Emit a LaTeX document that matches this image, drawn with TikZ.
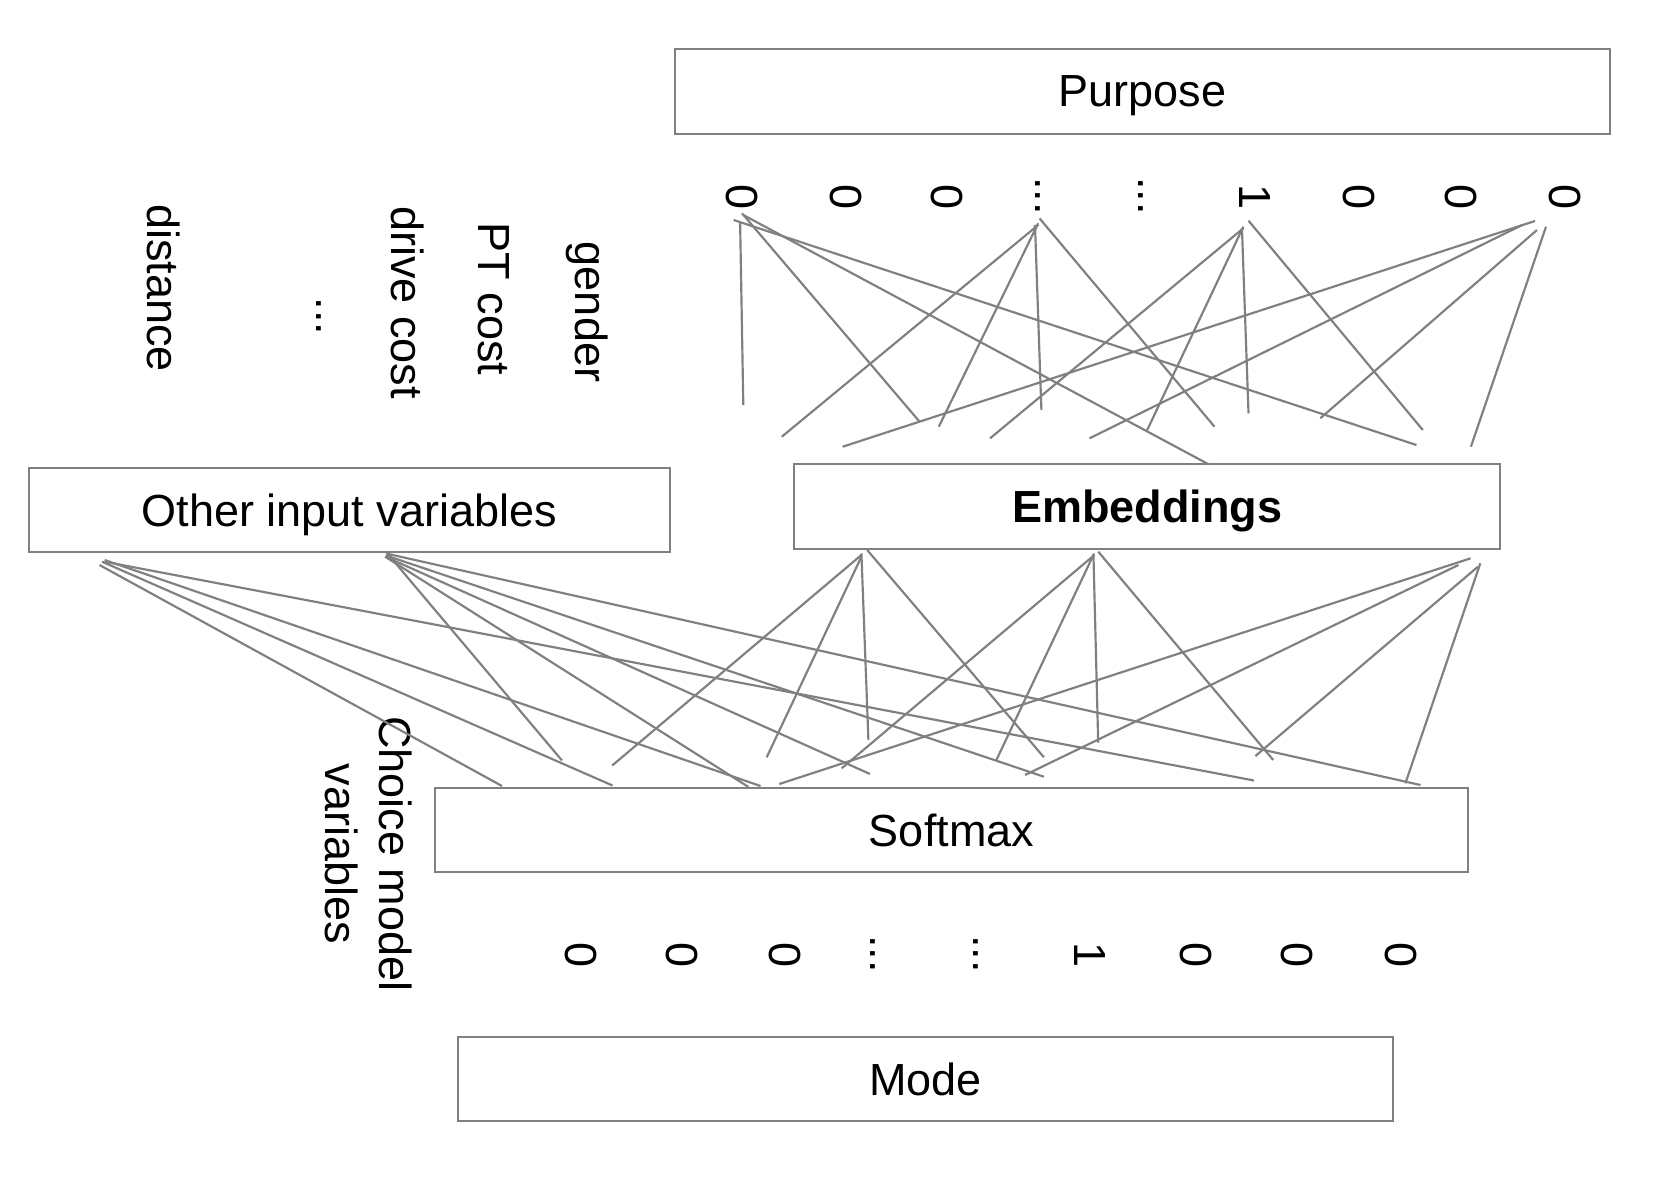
\documentclass[tikz,border=0pt]{standalone}
\usepackage{fontspec}
\setmainfont{Liberation Sans}
\definecolor{linegray}{HTML}{808080}
\begin{document}
\begin{tikzpicture}[x=0.3pt,y=-0.3pt,
  blk/.style={draw=linegray, line width=0.8pt, inner sep=0pt, text depth=0pt, font=\fontsize{13.5}{16.2}\selectfont},
  txt/.style={inner sep=0pt, font=\fontsize{13.5}{16.2}\selectfont, rotate=-90},
  link/.style={draw=linegray, line width=0.65pt}]
\useasboundingbox (0,0) rectangle (1664,1182);

% boxes
\node[blk, minimum width=280.5pt, minimum height=25.5pt] (purpose) at (1142.5,91.5) {Purpose};
\node[blk, minimum width=192.3pt, minimum height=25.2pt] (other) at (349.5,510) {Other input variables};
\node[blk, minimum width=211.8pt, minimum height=25.5pt] (emb) at (1147,506.5) {\textbf{Embeddings}};
\node[blk, minimum width=309.9pt, minimum height=25.2pt] (softmax) at (951.5,830) {Softmax};
\node[blk, minimum width=280.5pt, minimum height=25.2pt] (mode) at (925.5,1079) {Mode};

% rotated labels
\node[txt] (gender) at (587,312) {gender};
\node[txt] (ptcost) at (494,299) {PT cost};
\node[txt] (drivecost) at (408,302.5) {drive cost};
\node[txt] (vdots) at (318.5,316.5) {...};
\node[txt] (distance) at (164,288) {distance};
\node[txt, align=center] (choice) at (369,854) {Choice model\\variables};

% top one-hot row
\node[txt] (t1) at (742,197) {0};
\node[txt] (t2) at (846,197) {0};
\node[txt] (t3) at (947,197) {0};
\node[txt] (t4) at (1038,196) {...};
\node[txt] (t5) at (1141,196) {...};
\node[txt] (t6) at (1255,197) {1};
\node[txt] (t7) at (1359,197) {0};
\node[txt] (t8) at (1461,197) {0};
\node[txt] (t9) at (1565,197) {0};

% bottom one-hot row
\node[txt] (b1) at (581,955) {0};
\node[txt] (b2) at (682,955) {0};
\node[txt] (b3) at (785,955) {0};
\node[txt] (b4) at (873,954) {...};
\node[txt] (b5) at (976,954) {...};
\node[txt] (b6) at (1090,955) {1};
\node[txt] (b7) at (1196,955) {0};
\node[txt] (b8) at (1297,955) {0};
\node[txt] (b9) at (1401,955) {0};

% connectors (free-ended)
\foreach \n/\ax/\ay/\bx/\by in {
  a/740.1/221.7/743.3/405,
  b/742/213.3/919.6/421.7,
  c/743.3/215/1208/464,
  d/733.7/220/1416.4/445,
  e/1038.2/225/781.8/436.7,
  f/1038.2/223.3/938.8/426.7,
  g/1035/225/1041.4/410,
  h/1039.5/218.3/1214.5/426.7,
  i/1243.3/228.3/990.1/438.3,
  j/1243.3/226.7/1147.2/430,
  k/1242/230/1248.5/413.3,
  l/1248.5/220.7/1422.8/430,
  m/1535/221/842.7/446.7,
  n/1522.2/225/1089.5/438.3,
  o/1537/230/1320.3/418.3,
  p/1546/226.7/1470.9/446.7,
  qa/99.5/565/502/786,
  qb/102/561.7/612.5/785.5,
  qc/104.6/560/760.5/786,
  qd/104.6/561.7/1254/780.5,
  ra/387.8/554/562/760.5,
  rb/385.2/556.7/748.5/787,
  rc/386/553.5/1420.5/785,
  rd/386/555.5/1043.9/776.7,
  re/385/556.5/870/774,
  sa/861.4/555/612.2/765.5,
  sb/861.4/556.7/766.7/757.3,
  sc/861.4/553.3/868.4/740,
  sd/867.2/550/1043.9/757.3,
  ta/1094.4/555/841.7/768.3,
  tb/1093.4/555/996.4/760,
  tc/1093.4/553.3/1098.2/742.7,
  td/1098.3/551.7/1273.2/760,
  ua/1470.6/558.3/779.3/784,
  ub/1458.4/565/1025/775,
  uc/1477.9/566.7/1255.4/756,
  ud/1480.3/563.3/1405.4/783.3}
{
  \coordinate (\n0) at (\ax,\ay);
  \coordinate (\n1) at (\bx,\by);
  \draw[link] (\n0) -- (\n1);
}
\end{tikzpicture}
\end{document}
